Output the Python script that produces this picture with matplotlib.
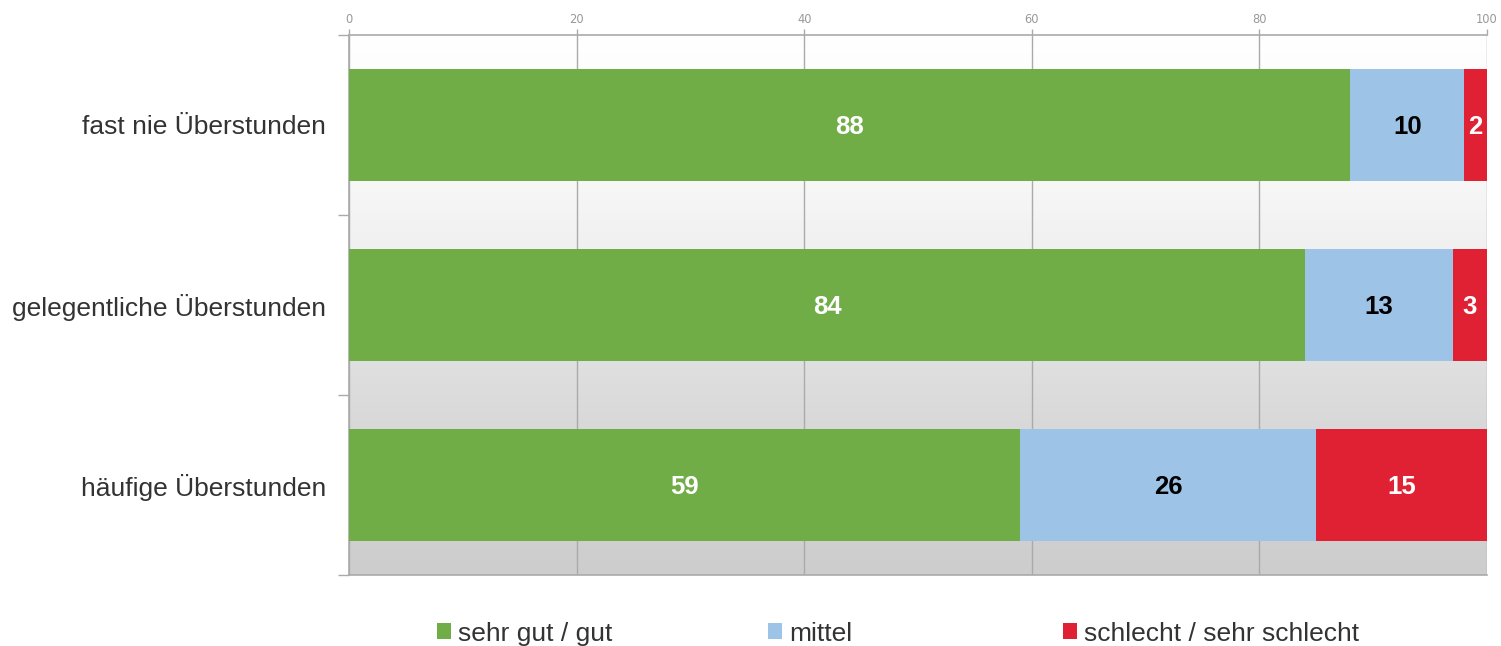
import numpy as np
import matplotlib
matplotlib.use("Agg")
import matplotlib.pyplot as plt
from matplotlib.colors import LinearSegmentedColormap
from matplotlib.patches import Patch

categories = ["fast nie Überstunden", "gelegentliche Überstunden", "häufige Überstunden"]
series_names = ["sehr gut / gut", "mittel", "schlecht / sehr schlecht"]
gut = [88, 84, 59]
mittel = [10, 13, 26]
schlecht = [2, 3, 15]
colors = ["#70ad47", "#9dc3e6", "#e02133"]
label_colors = ["white", "black", "white"]
xticks = [0, 20, 40, 60, 80, 100]

plt.rcParams["font.family"] = ["Liberation Sans", "DejaVu Sans"]

fig = plt.figure(figsize=(15.01, 6.46), dpi=100)
ax = fig.add_axes([349 / 1501, 1 - 575 / 646, (1487 - 349) / 1501, 540 / 646])

# background gradient, white at top to grey at bottom
grad = np.linspace(0, 1, 512).reshape(-1, 1)
cmap = LinearSegmentedColormap.from_list(
    "bg", [(0, "#ffffff"), (0.27, "#f7f7f7"), (0.40, "#f0f0f0"),
           (0.60, "#e0e0e0"), (0.73, "#d8d8d8"), (1, "#cdcdcd")])
ax.imshow(grad, cmap=cmap, aspect="auto", extent=[0, 100, 2.5, -0.5],
          zorder=0, interpolation="bicubic")

y = np.arange(len(categories))
left = np.zeros(len(categories))
for vals, name, col, lc in zip([gut, mittel, schlecht], series_names, colors, label_colors):
    bars = ax.barh(y, vals, left=left, height=0.62, color=col, label=name, zorder=3)
    for rect, v in zip(bars, vals):
        ax.text(rect.get_x() + rect.get_width() / 2, rect.get_y() + rect.get_height() / 2,
                str(v), ha="center", va="center_baseline", color=lc,
                fontsize=18.5, fontweight="bold", zorder=4)
    left += np.array(vals)

ax.set_xlim(0, 100)
ax.set_ylim(2.5, -0.5)
ax.set_xticks(xticks)
ax.xaxis.tick_top()
ax.tick_params(axis="x", labelsize=8.3, labelcolor="#999999", color="#aaaaaa",
               length=4, width=1, pad=2.5, labelfontfamily="DejaVu Sans")
ax.set_yticks(y)
ax.set_yticklabels(categories)
ax.set_yticks([-0.5, 0.5, 1.5, 2.5], minor=True)
ax.tick_params(axis="y", which="major", length=0, labelsize=19, labelcolor="#333333", pad=16.5)
ax.tick_params(axis="y", which="minor", length=8, color="#aaaaaa", width=1)

ax.grid(axis="x", color="#aaaaaa", linewidth=1, zorder=1)
ax.set_axisbelow(True)
for side in ["top", "left", "bottom"]:
    ax.spines[side].set_color("#aaaaaa")
    ax.spines[side].set_linewidth(1.2)
ax.spines["right"].set_visible(False)

# legend entries spaced like the original (one per column position)
legend_x = [413, 744, 1039]
for c, n, lx in zip(colors, series_names, legend_x):
    leg = fig.legend(handles=[Patch(facecolor=c, label=n)], loc="lower left",
                     bbox_to_anchor=(lx / 1501, -0.036), frameon=False, fontsize=19,
                     handlelength=0.55, handleheight=0.55, handletextpad=0.25,
                     labelcolor="#333333")

fig.savefig("out.png", dpi=100)
